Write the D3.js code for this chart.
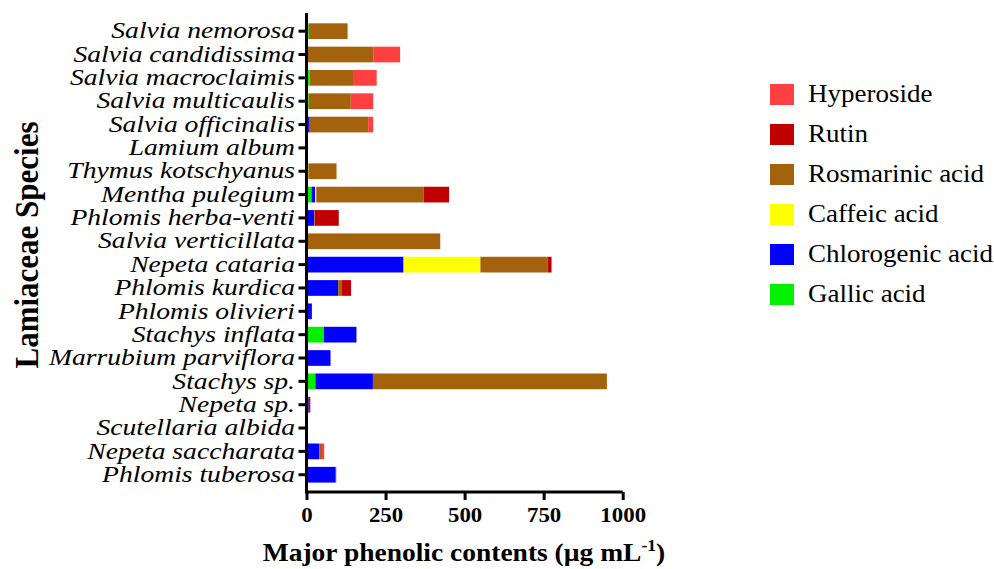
<!DOCTYPE html>
<html><head><meta charset="utf-8">
<script src="https://cdn.jsdelivr.net/npm/d3@7"></script>
<style>body{margin:0;background:#fff}</style>
</head><body>
<svg id="c" width="994" height="569"></svg>
<script>
const species = ["Salvia nemorosa","Salvia candidissima","Salvia macroclaimis","Salvia multicaulis","Salvia officinalis","Lamium album","Thymus kotschyanus","Mentha pulegium","Phlomis herba-venti","Salvia verticillata","Nepeta cataria","Phlomis kurdica","Phlomis olivieri","Stachys inflata","Marrubium parviflora","Stachys sp.","Nepeta sp.","Scutellaria albida","Nepeta saccharata","Phlomis tuberosa"];
const gallic      = [7,0,10,7,5,0,3,16,0,0,0,0,0,55,0,28,0,0,0,0];
const chlorogenic = [0,0,0,0,5,0,0,11,24,0,307,100,17,103,76,182,7,0,41,92];
const caffeic     = [0,0,0,0,0,0,3,4,0,0,243,0,0,0,0,0,0,0,0,0];
const rosmarinic  = [123,211,137,133,185,2,89,339,2,423,213,12,0,0,0,740,0,0,8,0];
const rutin       = [0,0,0,0,0,0,0,81,76,0,12,29,0,0,0,0,5,0,0,2];
const hyperoside  = [0,85,75,71,16,0,0,0,0,0,0,0,0,0,0,0,0,0,7,0];
const xTicks = [0,250,500,750,1000];
const seriesNames = ["Gallic acid","Chlorogenic acid","Caffeic acid","Rosmarinic acid","Rutin","Hyperoside"];
const seriesColors = ["#00f000","#0000ff","#ffff00","#a5620c","#c00000","#ff4040"];
const legendOrder = ["Hyperoside","Rutin","Rosmarinic acid","Caffeic acid","Chlorogenic acid","Gallic acid"];

const seriesVals = [gallic, chlorogenic, caffeic, rosmarinic, rutin, hyperoside];
const rows = species.map((s,i)=>{const o={species:s}; seriesNames.forEach((n,k)=>o[n]=seriesVals[k][i]); return o;});
const stack = d3.stack().keys(seriesNames)(rows);

const FF = '"Liberation Serif","Times New Roman",serif';
const svg = d3.select("#c");
const x = d3.scaleLinear().domain([0,1000]).range([306.5,622.7]);
const y = d3.scaleBand().domain(species).range([19.5,486.4]).paddingInner(0.327).paddingOuter(0.1635);
const color = d3.scaleOrdinal().domain(seriesNames).range(seriesColors);

svg.append("g").selectAll("g").data(stack).join("g")
  .attr("fill", d=>color(d.key))
  .selectAll("rect").data(d=>d).join("rect")
  .attr("x", d=>x(d[0]))
  .attr("y", (d,i)=>y(species[i]))
  .attr("width", d=>Math.max(0,x(d[1])-x(d[0])))
  .attr("height", y.bandwidth());

// axes
const ax = svg.append("g").attr("transform","translate(0,492)")
  .call(d3.axisBottom(x).tickValues(xTicks).tickSize(8).tickPadding(0).tickFormat(d3.format("d")));
ax.attr("font-family",null);
ax.select(".domain").attr("stroke-width",3).attr("d","M306.5,0H622.7");
ax.selectAll(".tick line").attr("stroke-width",3);
ax.selectAll("text").attr("y",30).attr("dy",null)
  .attr("transform","scale(1.09,1)")
  .style("font-family",FF).style("font-weight","bold").style("font-size","21px").attr("fill","#000");

const ay = svg.append("g").attr("transform","translate(306.5,0)")
  .call(d3.axisLeft(y).tickSize(8).tickPadding(0));
ay.attr("font-family",null);
ay.select(".domain").attr("stroke-width",3).attr("d","M0,13V493.5");
ay.selectAll(".tick line").attr("stroke-width",3);
ay.selectAll("text").attr("x",-10).attr("dy","0.3em")
  .attr("transform","scale(1.15,1)")
  .style("font-family",FF).style("font-style","italic").style("font-size","24px").attr("fill","#000");

const xt = svg.append("text").attr("transform","translate(464,561) scale(1.1,1)").attr("text-anchor","middle")
  .style("font-family",FF).style("font-weight","bold").style("font-size","25px");
xt.append("tspan").text("Major phenolic contents (µg mL");
xt.append("tspan").attr("dy",-10).style("font-size","16px").text("-1");
xt.append("tspan").attr("dy",10).text(")");

svg.append("text").attr("transform","translate(38,245) scale(1.1,1) rotate(-90)").attr("text-anchor","middle")
  .style("font-family",FF).style("font-weight","bold").style("font-size","31px")
  .text("Lamiaceae Species");

const lg = svg.append("g").selectAll("g").data(legendOrder).join("g")
  .attr("transform",(d,i)=>`translate(770,${94.5+i*40})`);
lg.append("rect").attr("x",0).attr("y",-10.5).attr("width",24).attr("height",21).attr("fill",d=>color(d));
lg.append("text").attr("transform","translate(38,7.5) scale(1.08,1)").style("font-family",FF).style("font-size","25px").text(d=>d);
</script>
</body></html>
